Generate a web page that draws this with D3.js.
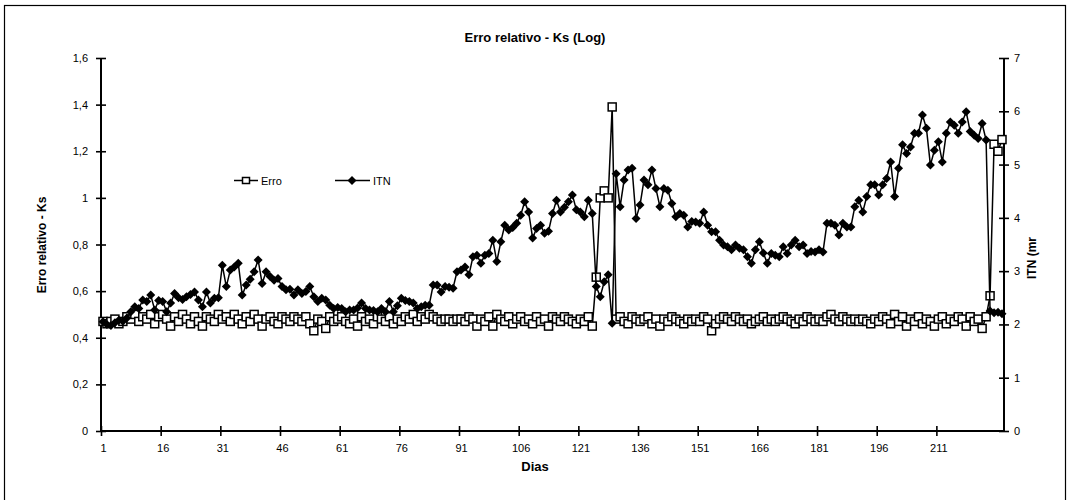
<!DOCTYPE html>
<html>
<head>
<meta charset="utf-8">
<script src="https://cdn.jsdelivr.net/npm/d3@7"></script>
<style>
  html, body { margin: 0; padding: 0; background: #fff; }
  svg { display: block; font-family: "Liberation Sans", Arial, sans-serif; }
</style>
</head>
<body>
<svg id="chart" width="1070" height="500"></svg>
<script>
// ---- data ----
const titleText = "Erro relativo - Ks (Log)";
const xTitle = "Dias";
const yLeftTitle = "Erro relativo - Ks";
const yRightTitle = "ITN (mr";
const seriesNames = ["Erro", "ITN"];

const xTickDays = [1, 16, 31, 46, 61, 76, 91, 106, 121, 136, 151, 166, 181, 196, 211];
const leftTicks = [0, 0.2, 0.4, 0.6, 0.8, 1, 1.2, 1.4, 1.6];
const rightTicks = [0, 1, 2, 3, 4, 5, 6, 7];

const erro = [
  0.47,0.46,0.47,0.48,0.46,0.47,0.49,0.48,0.50,0.47,0.49,0.48,0.50,0.46,0.49,
  0.50,0.48,0.45,0.49,0.47,0.50,0.48,0.46,0.49,0.47,0.45,0.49,0.48,0.47,0.50,
  0.48,0.49,0.47,0.50,0.48,0.46,0.49,0.47,0.50,0.48,0.45,0.48,0.49,0.47,0.46,
  0.49,0.48,0.47,0.49,0.48,0.47,0.49,0.46,0.43,0.48,0.47,0.44,0.49,0.47,0.48,
  0.49,0.47,0.46,0.48,0.45,0.49,0.47,0.48,0.46,0.49,0.48,0.47,0.49,0.46,0.48,
  0.47,0.49,0.48,0.50,0.47,0.49,0.48,0.50,0.49,0.48,0.47,0.48,0.48,0.47,0.48,
  0.48,0.47,0.49,0.48,0.45,0.48,0.47,0.49,0.45,0.50,0.48,0.47,0.49,0.46,0.48,
  0.49,0.47,0.48,0.46,0.49,0.47,0.48,0.45,0.49,0.48,0.47,0.49,0.48,0.47,0.46,
  0.48,0.47,0.49,0.45,0.66,1.00,1.03,1.00,1.39,0.48,0.49,0.47,0.46,0.49,0.48,
  0.47,0.48,0.49,0.46,0.48,0.45,0.48,0.47,0.49,0.48,0.47,0.46,0.48,0.47,0.48,
  0.47,0.49,0.48,0.43,0.46,0.48,0.49,0.48,0.47,0.49,0.48,0.47,0.48,0.46,0.47,
  0.48,0.49,0.47,0.48,0.47,0.48,0.49,0.48,0.47,0.46,0.48,0.47,0.49,0.48,0.47,
  0.48,0.47,0.49,0.50,0.48,0.47,0.49,0.48,0.47,0.48,0.47,0.48,0.47,0.46,0.48,
  0.47,0.49,0.48,0.46,0.50,0.47,0.49,0.45,0.48,0.47,0.49,0.46,0.48,0.47,0.45,
  0.48,0.49,0.46,0.48,0.47,0.49,0.48,0.45,0.49,0.47,0.48,0.44,0.49,0.58,1.23,
  1.20,1.25
];

const itn = [
  2.05,2.00,1.98,2.03,2.08,2.06,2.12,2.24,2.33,2.30,2.46,2.43,2.55,2.27,2.45,
  2.43,2.24,2.40,2.58,2.50,2.47,2.52,2.56,2.61,2.46,2.33,2.61,2.40,2.49,2.50,
  3.11,2.71,3.02,3.08,3.15,2.55,2.74,2.85,2.99,3.21,2.77,2.99,2.90,2.83,2.86,
  2.71,2.65,2.66,2.55,2.65,2.58,2.62,2.71,2.52,2.43,2.49,2.46,2.36,2.30,2.32,
  2.30,2.24,2.27,2.27,2.31,2.40,2.30,2.27,2.26,2.24,2.30,2.24,2.43,2.24,2.35,
  2.49,2.45,2.43,2.40,2.30,2.33,2.36,2.36,2.74,2.74,2.61,2.71,2.70,2.68,2.99,
  3.02,3.08,2.93,3.27,3.30,3.15,3.30,3.33,3.58,3.18,3.55,3.86,3.77,3.82,3.90,
  4.05,4.30,4.11,3.62,3.80,3.86,3.71,3.75,4.08,4.33,4.11,4.20,4.30,4.43,4.15,
  4.11,4.02,4.33,4.08,2.71,2.52,2.80,2.93,2.02,4.83,4.21,4.71,4.90,4.93,3.99,
  4.24,4.71,4.62,4.90,4.55,4.21,4.55,4.52,4.27,4.02,4.08,4.05,3.83,3.93,3.92,
  3.90,4.11,3.86,3.74,3.74,3.58,3.49,3.46,3.40,3.49,3.43,3.40,3.27,3.15,3.40,
  3.55,3.34,3.15,3.33,3.30,3.27,3.46,3.33,3.49,3.58,3.46,3.49,3.33,3.37,3.36,
  3.40,3.36,3.90,3.90,3.86,3.68,3.90,3.83,3.83,4.21,4.33,4.11,4.40,4.62,4.62,
  4.43,4.62,4.74,5.05,4.40,4.93,5.37,5.21,5.33,5.59,5.59,5.93,5.68,4.99,5.27,
  5.43,5.05,5.59,5.80,5.74,5.59,5.80,5.99,5.62,5.55,5.49,5.77,5.46,2.25,2.22,
  2.23,2.20
];

const days = erro.map((_, i) => i + 1);

// ---- layout ----
const svg = d3.select("#chart");
const L = 101, R = 1004, T = 58, B = 431;

svg.append("rect").attr("x", 4.5).attr("y", 5.5).attr("width", 1061).attr("height", 520)
  .attr("fill", "#fff").attr("stroke", "#000").attr("stroke-width", 1.2);

const x = d3.scaleLinear().domain([0.5, days.length + 0.5]).range([L, R]);
const yL = d3.scaleLinear().domain([0, 1.6]).range([B, T]);
const yR = d3.scaleLinear().domain([0, 7]).range([B, T]);

const fmtComma = d => d3.format("~g")(d).replace(".", ",");

// left axis
const gl = svg.append("g").attr("transform", `translate(${L},0)`)
  .call(d3.axisLeft(yL).tickValues(leftTicks).tickFormat(fmtComma).tickSize(5).tickPadding(8));
// right axis
const gr = svg.append("g").attr("transform", `translate(${R},0)`)
  .call(d3.axisRight(yR).tickValues(rightTicks).tickFormat(d3.format("d")).tickSize(5).tickPadding(5));
// bottom axis: labels at category centers
const gbLab = svg.append("g").attr("transform", `translate(0,${B})`)
  .call(d3.axisBottom(x).tickValues(xTickDays).tickFormat(d3.format("d")).tickSize(0).tickPadding(13));
// bottom axis tick marks at category boundaries
const gbTick = svg.append("g").attr("transform", `translate(0,${B})`)
  .call(d3.axisBottom(x).tickValues(xTickDays.map(d => d - 0.5)).tickFormat("").tickSize(5));

[gl, gr, gbLab, gbTick].forEach(g => {
  g.select(".domain").attr("stroke", "#000").attr("stroke-width", 2);
  g.selectAll(".tick line").attr("stroke", "#000").attr("stroke-width", 1.6);
  g.selectAll(".tick text").attr("fill", "#000").style("font-size", "11px")
    .style("font-family", '"Liberation Sans", Arial, sans-serif');
});
gbLab.select(".domain").remove();
gl.selectAll(".tick line").attr("x1", 5).attr("x2", -5);
gr.selectAll(".tick line").attr("x1", -5).attr("x2", 5);
gbTick.selectAll(".tick line").attr("y1", -5).attr("y2", 5);
gbTick.select(".domain").attr("d", `M${L},0H${R}`);
gl.select(".domain").attr("d", `M0,${B}V${T}`);
gr.select(".domain").attr("d", `M0,${B}V${T}`);

// ---- series ----
const lineErro = d3.line().x((d, i) => x(days[i])).y(d => yL(d));
const lineItn = d3.line().x((d, i) => x(days[i])).y(d => yR(d));

svg.append("path").datum(erro).attr("d", lineErro)
  .attr("fill", "none").attr("stroke", "#000").attr("stroke-width", 1.5);
svg.append("g").selectAll("rect").data(erro).join("rect")
  .attr("x", (d, i) => x(days[i]) - 4).attr("y", d => yL(d) - 4)
  .attr("width", 8).attr("height", 8)
  .attr("fill", "#fff").attr("stroke", "#000").attr("stroke-width", 1.5);

svg.append("path").datum(itn).attr("d", lineItn)
  .attr("fill", "none").attr("stroke", "#000").attr("stroke-width", 1.5);
const diamond = "M0,-4.5L4.5,0L0,4.5L-4.5,0Z";
svg.append("g").selectAll("path").data(itn).join("path")
  .attr("transform", (d, i) => `translate(${x(days[i])},${yR(d)})`)
  .attr("d", diamond).attr("fill", "#000");

// ---- legend ----
const lg = svg.append("g");
lg.append("line").attr("x1", 234).attr("x2", 258).attr("y1", 180.5).attr("y2", 180.5)
  .attr("stroke", "#000").attr("stroke-width", 1.5);
lg.append("rect").attr("x", 242.5).attr("y", 177.5).attr("width", 7).attr("height", 6)
  .attr("fill", "#fff").attr("stroke", "#000").attr("stroke-width", 1.5);
lg.append("text").attr("x", 261).attr("y", 184.5).text(seriesNames[0])
  .style("font-size", "11px");
lg.append("line").attr("x1", 335).attr("x2", 370).attr("y1", 180.5).attr("y2", 180.5)
  .attr("stroke", "#000").attr("stroke-width", 1.5);
lg.append("path").attr("transform", "translate(352,180.5)").attr("d", diamond).attr("fill", "#000");
lg.append("text").attr("x", 373).attr("y", 184.5).text(seriesNames[1])
  .style("font-size", "11px");

// ---- titles ----
svg.append("text").attr("x", 535).attr("y", 42).attr("text-anchor", "middle")
  .style("font-size", "13px").style("font-weight", "bold").text(titleText);
svg.append("text").attr("x", 535).attr("y", 471).attr("text-anchor", "middle")
  .style("font-size", "13px").style("font-weight", "bold").text(xTitle);
svg.append("text").attr("transform", "translate(46,245) rotate(-90)").attr("text-anchor", "middle")
  .style("font-size", "12px").style("font-weight", "bold").text(yLeftTitle);
svg.append("text").attr("transform", "translate(1036,258) rotate(-90)").attr("text-anchor", "middle")
  .style("font-size", "12px").style("font-weight", "bold").text(yRightTitle);
</script>
</body>
</html>
